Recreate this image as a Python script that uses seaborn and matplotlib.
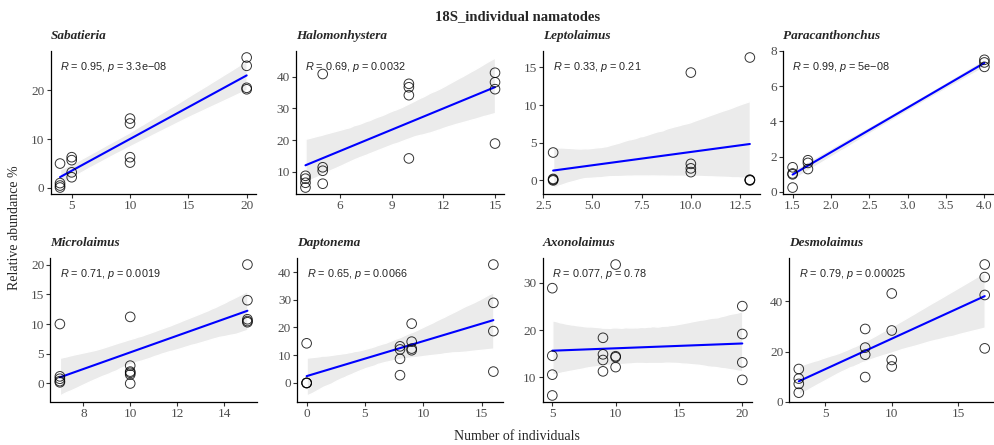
import matplotlib
matplotlib.use("Agg")
import matplotlib.pyplot as plt
import seaborn as sns
import pandas as pd

# data, 8 genera
genera = ["Sabatieria", "Halomonhystera", "Leptolaimus", "Paracanthonchus",
          "Microlaimus", "Daptonema", "Axonolaimus", "Desmolaimus"]

sabatieria_x = [4, 4, 4, 4, 5, 5, 5, 5, 10, 10, 10, 10, 20, 20, 20, 20]
sabatieria_y = [5.0, 1.0, 0.5, 0.1, 6.3, 5.7, 3.2, 2.2, 14.2, 13.2, 6.3, 5.2, 26.7, 25.0, 20.5, 20.2]

halomonhystera_x = [4, 4, 4, 4, 5, 5, 5, 5, 10, 10, 10, 10, 15, 15, 15, 15]
halomonhystera_y = [8.7, 7.8, 6.5, 5.0, 40.9, 11.4, 10.3, 6.2, 37.8, 36.7, 34.2, 14.2, 41.3, 38.3, 36.1, 18.9]

leptolaimus_x = [3, 3, 3, 3, 10, 10, 10, 10, 13, 13, 13, 13]
leptolaimus_y = [3.7, 0.2, 0.1, 0.0, 14.3, 2.2, 1.6, 1.1, 16.3, 0.1, 0.05, 0.0]

paracanthonchus_x = [1.5, 1.5, 1.5, 1.5, 1.7, 1.7, 1.7, 4.0, 4.0, 4.0]
paracanthonchus_y = [1.4, 1.0, 1.05, 0.25, 1.8, 1.65, 1.3, 7.5, 7.35, 7.1]

microlaimus_x = [7, 7, 7, 7, 7, 10, 10, 10, 10, 10, 10, 15, 15, 15, 15, 15]
microlaimus_y = [10.0, 1.2, 0.8, 0.4, 0.2, 11.2, 3.0, 2.0, 1.8, 1.5, 0.0, 20.0, 14.0, 10.8, 10.5, 10.3]

daptonema_x = [0, 0, 0, 0, 8, 8, 8, 8, 9, 9, 9, 9, 16, 16, 16, 16]
daptonema_y = [14.3, 0.0, 0.0, 0.0, 13.2, 12.1, 8.7, 2.8, 21.4, 14.9, 12.4, 11.8, 42.7, 28.9, 18.7, 4.1]

axonolaimus_x = [5, 5, 5, 5, 9, 9, 9, 9, 10, 10, 10, 10, 20, 20, 20, 20]
axonolaimus_y = [28.9, 14.6, 10.6, 6.2, 18.4, 14.9, 13.7, 11.3, 33.9, 14.5, 14.3, 12.2, 25.1, 19.2, 13.2, 9.5]

desmolaimus_x = [3, 3, 3, 3, 8, 8, 8, 8, 10, 10, 10, 10, 17, 17, 17, 17]
desmolaimus_y = [13.1, 9.3, 7.2, 3.7, 29.0, 21.6, 18.8, 9.9, 43.1, 28.4, 16.7, 14.1, 54.6, 49.6, 42.5, 21.3]

r_values = ["0.95", "0.69", "0.33", "0.99", "0.71", "0.65", "0.077", "0.79"]
p_values = ["3.3e\u221208", "0.0032", "0.21", "5e\u221208", "0.0019", "0.0066", "0.78", "0.00025"]

x_ticks = [[5, 10, 15, 20], [6, 9, 12, 15], [2.5, 5.0, 7.5, 10.0, 12.5], [1.5, 2.0, 2.5, 3.0, 3.5, 4.0],
           [8, 10, 12, 14], [0, 5, 10, 15], [5, 10, 15, 20], [5, 10, 15]]
y_ticks = [[0, 10, 20], [10, 20, 30, 40], [0, 5, 10, 15], [0, 2, 4, 6, 8],
           [0, 5, 10, 15, 20], [0, 10, 20, 30, 40], [10, 20, 30], [0, 20, 40]]

xs = [sabatieria_x, halomonhystera_x, leptolaimus_x, paracanthonchus_x,
      microlaimus_x, daptonema_x, axonolaimus_x, desmolaimus_x]
ys = [sabatieria_y, halomonhystera_y, leptolaimus_y, paracanthonchus_y,
      microlaimus_y, daptonema_y, axonolaimus_y, desmolaimus_y]

sns.set_theme(style="ticks")
plt.rcParams['font.family'] = ['Liberation Serif', 'DejaVu Serif']
plt.rcParams['mathtext.fontset'] = 'custom'
plt.rcParams['mathtext.it'] = 'Liberation Sans:italic'
plt.rcParams['mathtext.rm'] = 'Liberation Sans'

W, H = 995, 445
fig = plt.figure(figsize=(9.95, 4.45), dpi=100)

# axes boxes in pixels (left, right), rows (top, bottom)
cols_px = [(50.7, 256), (296, 504.5), (543.3, 759.7), (783, 994),
           (50.5, 256.8), (297.3, 502.7), (542.8, 751.8), (789.5, 994)]
rows_px = [(51, 194), (258, 402)]

for i, name in enumerate(genera):
    l, r = cols_px[i]
    t, b = rows_px[i // 4]
    ax = fig.add_axes([l / W, 1 - b / H, (r - l) / W, (b - t) / H])
    df = pd.DataFrame({'x': xs[i], 'y': ys[i]})
    sns.regplot(data=df, x='x', y='y', ax=ax, ci=95, seed=1,
                scatter_kws={'s': 48, 'facecolors': 'none', 'edgecolors': 'black',
                             'linewidths': 0.7, 'zorder': 3},
                line_kws={'color': '#0000ff', 'lw': 1.5, 'zorder': 2})
    # grey ribbon like ggplot's geom_smooth
    band = ax.collections[-1]
    band.set_facecolor('#ebebeb')
    band.set_alpha(1)
    band.set_zorder(1)

    ax.set_xticks(x_ticks[i])
    ax.set_yticks(y_ticks[i])
    ax.set_xlabel('')
    ax.set_ylabel('')
    sns.despine(ax=ax)
    for s in ['left', 'bottom']:
        ax.spines[s].set_color('black')
        ax.spines[s].set_linewidth(0.9)
    ax.tick_params(axis='both', labelsize=9.5, colors='#4d4d4d', length=3, width=0.8, pad=1.5)
    ax.tick_params(axis='both', color='#333333')

    ax.text(0.0, 1.06, name, transform=ax.transAxes, fontsize=9.5,
            fontweight='bold', fontstyle='italic', ha='left', va='bottom')
    ax.text(0.045, 0.89, rf"$R$ = {r_values[i]}, $p$ = {p_values[i]}",
            transform=ax.transAxes, fontsize=7.8, family='Liberation Sans',
            ha='left', va='center')

fig.text(0.52, 0.962, "18S_individual namatodes", ha='center', va='center',
         fontsize=10.5, fontweight='bold')
fig.text(15 / W, 1 - 228 / H, "Relative abundance %", rotation=90,
         ha='center', va='center', fontsize=10)
fig.text(0.52, 1 - 437 / H, "Number of individuals", ha='center', va='center', fontsize=10)

fig.savefig("out.png", dpi=100)
